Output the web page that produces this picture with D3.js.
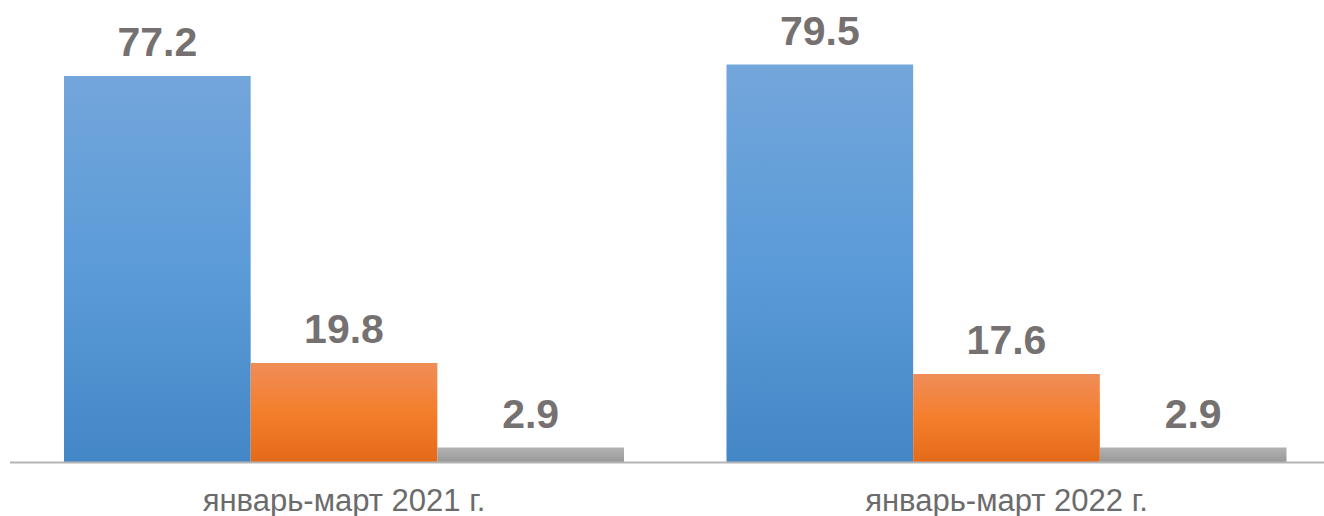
<!DOCTYPE html>
<html>
<head>
<meta charset="utf-8">
<script src="https://cdn.jsdelivr.net/npm/d3@7"></script>
<style>
  body { margin: 0; background: #fff; }
  svg { display: block; font-family: Arial, "Liberation Sans", sans-serif; }
</style>
</head>
<body>
<div id="chart"></div>
<script>
let w = 1324
let h = 516
let baseY = 462

// data
let categories = ["январь-март 2021 г.", "январь-март 2022 г."]
let seriesNames = ["s1", "s2", "s3"]
let values2021 = [77.2, 19.8, 2.9]
let values2022 = [79.5, 17.6, 2.9]
let allValues = [values2021, values2022]

let gradients = [
  ["#73a6db", "#5b9bd8", "#4487c6"],
  ["#f08d58", "#f47e2c", "#e46a19"],
  ["#b2b2b2", "#a6a6a6", "#989898"]
]

let svg = d3.select("#chart")
  .append("svg")
  .attr("width", w)
  .attr("height", h)

let defs = svg.append("defs")
gradients.forEach((g, i) => {
  let lg = defs.append("linearGradient")
    .attr("id", "grad" + i)
    .attr("x1", 0).attr("y1", 0)
    .attr("x2", 0).attr("y2", 1)
  lg.append("stop").attr("offset", "0%").attr("stop-color", g[0])
  lg.append("stop").attr("offset", "50%").attr("stop-color", g[1])
  lg.append("stop").attr("offset", "100%").attr("stop-color", g[2])
})

let x0 = d3.scaleBand()
  .domain(categories)
  .range([12.75, 1337.75])
  .paddingInner(0.1547)
  .paddingOuter(0.07736)

let x1 = d3.scaleBand()
  .domain(seriesNames)
  .range([0, x0.bandwidth()])

let y = d3.scaleLinear()
  .domain([0, 80])
  .range([baseY, baseY - 400])

let groups = svg.selectAll("g.group")
  .data(categories)
  .enter()
  .append("g")
  .attr("class", "group")
  .attr("transform", d => `translate(${x0(d)},0)`)

groups.each(function(cat, ci) {
  let g = d3.select(this)
  let rows = seriesNames.map((s, i) => ({ s: s, i: i, v: allValues[ci][i] }))

  g.selectAll("rect")
    .data(rows)
    .enter()
    .append("rect")
    .attr("x", d => x1(d.s))
    .attr("y", d => y(d.v))
    .attr("width", x1.bandwidth())
    .attr("height", d => baseY - y(d.v))
    .attr("fill", d => `url(#grad${d.i})`)

  g.selectAll("text.val")
    .data(rows)
    .enter()
    .append("text")
    .attr("class", "val")
    .attr("x", d => x1(d.s) + x1.bandwidth() / 2)
    .attr("y", d => y(d.v) - 20)
    .attr("text-anchor", "middle")
    .attr("font-size", 41)
    .attr("font-weight", "bold")
    .attr("fill", "#767171")
    .text(d => d.v.toFixed(1))
})

// baseline
svg.append("line")
  .attr("x1", 10)
  .attr("x2", w)
  .attr("y1", baseY + 0.5)
  .attr("y2", baseY + 0.5)
  .attr("stroke", "#b4b4b4")
  .attr("stroke-width", 2)

// category labels
svg.selectAll("text.cat")
  .data(categories)
  .enter()
  .append("text")
  .attr("class", "cat")
  .attr("x", d => x0(d) + x0.bandwidth() / 2)
  .attr("y", 511)
  .attr("text-anchor", "middle")
  .attr("font-size", 31)
  .attr("fill", "#6b6b6b")
  .text(d => d)
</script>
</body>
</html>
